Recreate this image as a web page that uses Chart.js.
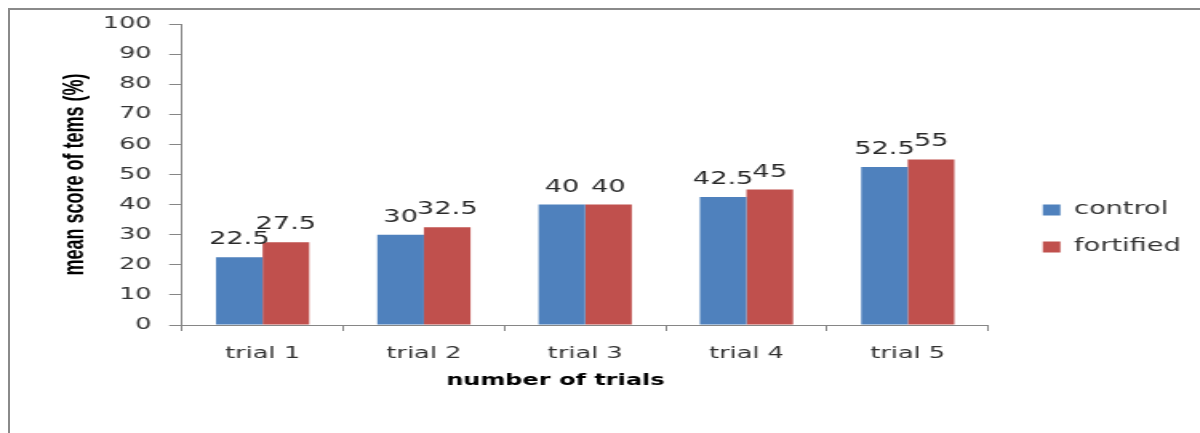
<!DOCTYPE html>
<html>
<head>
<meta charset="utf-8">
<script src="https://cdn.jsdelivr.net/npm/chart.js"></script>
<style>
  body { margin: 0; background: #fff; }
  #wrap { position: relative; width: 1200px; height: 433px; overflow: hidden; }
  #chart { position: absolute; left: 0; top: 0; width: 1200px; height: 433px; }
  .frame { position: absolute; background: #8a8a8a; }
</style>
</head>
<body>
<div id="wrap">
  <canvas id="chart" width="750" height="433" style="width:1200px;height:433px"></canvas>
  <div class="frame" style="left:8px;top:8px;width:1192px;height:2px"></div>
  <div class="frame" style="left:8px;top:8px;width:2px;height:425px"></div>
</div>
<script>
// the original picture is stretched sideways, so draw narrow and widen with css
const categories = ['trial 1', 'trial 2', 'trial 3', 'trial 4', 'trial 5'];
const controlScores = [22.5, 30, 40, 42.5, 52.5];
const fortifiedScores = [27.5, 32.5, 40, 45, 55];
const xTitle = 'number of trials';
const yTitle = 'mean score of tems (%)';

const font = 'DejaVu Sans';

const valueLabels = {
    id: 'valueLabels',
    afterDatasetsDraw(chart) {
        const ctx = chart.ctx;
        ctx.save();
        ctx.font = '17px "' + font + '"';
        ctx.fillStyle = '#2a2a2a';
        ctx.textAlign = 'center';
        ctx.textBaseline = 'alphabetic';
        chart.data.datasets.forEach((ds, i) => {
            chart.getDatasetMeta(i).data.forEach((bar, j) => {
                ctx.fillText(ds.data[j], bar.x, bar.y - 13);
            });
        });
        // x title sits a bit left of the plot centre in the original
        const area = chart.chartArea;
        ctx.font = 'bold 15px "' + font + '"';
        ctx.fillStyle = '#000';
        ctx.textBaseline = 'middle';
        ctx.fillText(xTitle, area.left + (area.right - area.left) * 0.463, chart.scales.x.bottom - 52);
        ctx.restore();
    }
};

const ctx = document.getElementById('chart').getContext('2d');
const scoreChart = new Chart(ctx, {
    type: 'bar',
    data: {
        labels: categories,
        datasets: [
            {
                label: 'control',
                data: controlScores,
                backgroundColor: '#4f81bd',
                borderWidth: 0,
                categoryPercentage: 0.578,
                barPercentage: 1
            },
            {
                label: 'fortified',
                data: fortifiedScores,
                backgroundColor: '#c0504d',
                borderWidth: 0,
                categoryPercentage: 0.578,
                barPercentage: 1
            }
        ]
    },
    options: {
        responsive: false,
        animation: false,
        devicePixelRatio: 1,
        layout: {
            padding: { top: 24, right: 2, bottom: 0, left: 0 }
        },
        scales: {
            x: {
                grid: { drawOnChartArea: false, tickLength: 6, color: '#868686' },
                border: { color: '#868686' },
                ticks: { font: { family: font, size: 16 }, color: '#333', padding: 13, maxRotation: 0 },
                afterFit(scale) { scale.height = 108; }
            },
            y: {
                min: 0,
                max: 100,
                ticks: { stepSize: 10, font: { family: font, size: 16 }, color: '#333', padding: 11 },
                grid: { drawOnChartArea: false, tickLength: 8, color: '#868686' },
                border: { color: '#868686' },
                title: {
                    display: true,
                    text: yTitle,
                    font: { family: 'Liberation Sans', size: 18, weight: 'bold' },
                    color: '#000',
                    padding: { top: 36, bottom: 0 }
                },
                afterFit(scale) { scale.width = 113.75; }
            },
            // empty spacer between plot and legend
            gap: {
                position: 'right',
                grid: { display: false, drawTicks: false },
                ticks: { display: false },
                border: { display: false },
                afterFit(scale) { scale.width = 14; }
            }
        },
        plugins: {
            legend: {
                position: 'right',
                align: 'center',
                maxWidth: 120,
                labels: {
                    boxWidth: 11,
                    boxHeight: 11,
                    padding: 20,
                    color: '#333',
                    font: { family: font, size: 17 }
                }
            },
            tooltip: { enabled: false }
        }
    },
    plugins: [valueLabels]
});
</script>
</body>
</html>
